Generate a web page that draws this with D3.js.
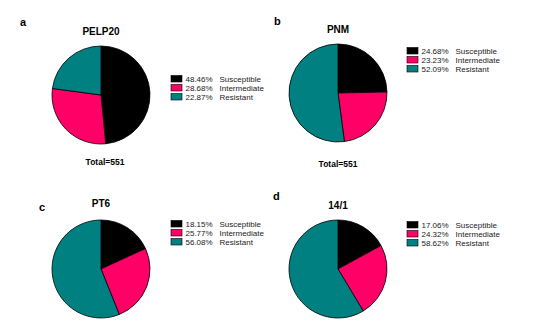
<!DOCTYPE html>
<html><head><meta charset="utf-8">
<script src="https://cdn.jsdelivr.net/npm/d3@7"></script>
<style>body{margin:0;background:#fff}svg{display:block}</style>
</head><body>
<svg id="c" width="538" height="330"></svg>
<script>
const categories = ["Susceptible", "Intermediate", "Resistant"];
const panelLetters = ["a", "b", "c", "d"];
const panelTitles = ["PELP20", "PNM", "PT6", "14/1"];
const pelp20 = [48.46, 28.68, 22.87];
const pnm = [24.68, 23.23, 52.09];
const pt6 = [18.15, 25.77, 56.08];
const p141 = [17.06, 24.32, 58.62];
const totals = ["Total=551", "Total=551", null, null];
const seriesValues = [pelp20, pnm, pt6, p141];

const colors = d3.scaleOrdinal().domain(categories).range(["#000000", "#ff0066", "#008080"]);
const svg = d3.select("#c");
const font = "Liberation Sans, Arial, sans-serif";

const layout = [
  {cx: 101, cy: 95, r: 49, lx: 20, ly: 26, tx: 101, ty: 35, legX: 171, legY: 79, totY: 165},
  {cx: 338, cy: 93, r: 49, lx: 274, ly: 25, tx: 338, ty: 33, legX: 407, legY: 51, totY: 167},
  {cx: 101, cy: 269, r: 49, lx: 39, ly: 211, tx: 101, ty: 207, legX: 171, legY: 224, totY: null},
  {cx: 338, cy: 269, r: 49, lx: 273, ly: 200, tx: 338, ty: 209, legX: 407, legY: 225, totY: null}
];

const pie = d3.pie().sort(null).value(d => d.v);

seriesValues.forEach((vals, i) => {
  const L = layout[i];
  const g = svg.append("g");
  const data = vals.map((v, k) => ({cat: categories[k], v}));
  const arc = d3.arc().innerRadius(0).outerRadius(L.r);
  g.append("g").attr("transform", `translate(${L.cx},${L.cy})`)
    .selectAll("path").data(pie(data)).join("path")
    .attr("d", arc).attr("fill", d => colors(d.data.cat))
    .attr("stroke", "#000").attr("stroke-width", 0.8);
  g.append("text").attr("x", L.lx).attr("y", L.ly).text(panelLetters[i])
    .attr("font-family", font).attr("font-weight", "bold").attr("font-size", 11);
  g.append("text").attr("x", L.tx).attr("y", L.ty).text(panelTitles[i])
    .attr("text-anchor", "middle").attr("font-family", font).attr("font-weight", "bold").attr("font-size", 10);
  if (totals[i]) {
    g.append("text").attr("x", L.tx + (i === 0 ? 4 : 0)).attr("y", L.totY).text(totals[i])
      .attr("text-anchor", "middle").attr("font-family", font).attr("font-weight", "bold").attr("font-size", 8.5);
  }
  const leg = g.append("g").attr("transform", `translate(${L.legX},${L.legY})`);
  const rows = leg.selectAll("g").data(data).join("g").attr("transform", (d, k) => `translate(0,${k * 9})`);
  rows.append("rect").attr("x", 0).attr("y", -3.5).attr("width", 11).attr("height", 6.5)
    .attr("fill", d => colors(d.cat)).attr("stroke", "#000").attr("stroke-width", 0.6);
  rows.append("text").attr("x", 14.5).attr("y", 3).text(d => d.v.toFixed(2) + "%")
    .attr("font-family", font).attr("font-size", 8).attr("fill", "#222");
  rows.append("text").attr("x", 48.5).attr("y", 3).text(d => d.cat)
    .attr("font-family", font).attr("font-size", 8).attr("fill", "#222");
});
</script>
</body></html>
